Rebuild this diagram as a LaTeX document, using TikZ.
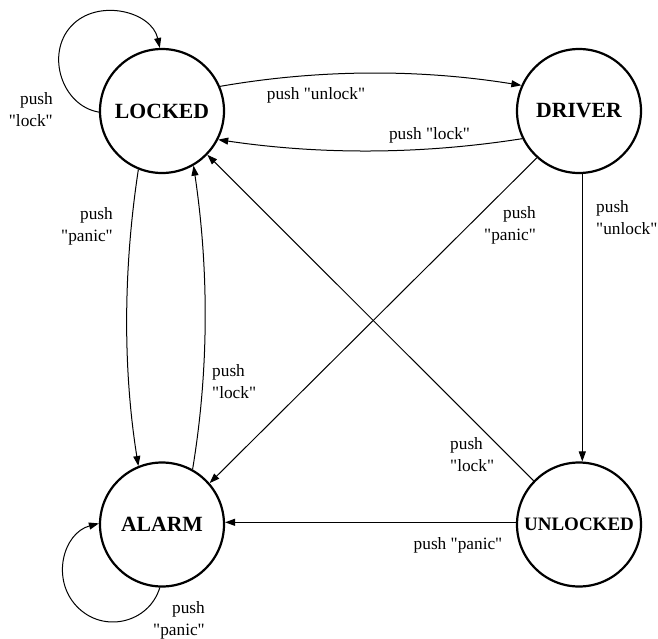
\documentclass[tikz,border=0pt]{standalone}
\usepackage{fontspec}
\setmainfont{Liberation Serif}[Ligatures=TeXOff]
\usetikzlibrary{arrows.meta}
\tikzset{
  state/.style={circle, draw, line width=2.2pt, minimum size=124pt, inner sep=0pt, font=\fontsize{21.7}{24}\selectfont\bfseries},
  edge/.style={line width=1pt, -{Triangle[length=10pt,width=7pt]}},
  lbl/.style={inner sep=0pt, font=\fontsize{17.3}{22}\selectfont}
}
\begin{document}
\begin{tikzpicture}[x=1pt,y=-1pt]
\useasboundingbox (0,0) rectangle (658,638);
\node[state] (L) at (162,111) {LOCKED};
\node[state] (D) at (579,111) {DRIVER};
\node[state] (A) at (162,524.5) {ALARM};
\node[state, font=\fontsize{19}{22}\selectfont\bfseries] (U) at (579,524.5) {UNLOCKED};
\coordinate (lm) at (71.4,25.9);
\coordinate (am) at (76.9,606.5);

\draw[edge] (L.181) .. controls (62,106) and (45.1,54) .. (lm)
                    .. controls (97.7,-2.2) and (151.8,11.3) .. (L.92);
\draw[edge] (L.23) .. controls (320,69) and (420,69) .. (D.156);
\draw[edge] (D.206) .. controls (420,154.7) and (320,154.7) .. (L.333);
\draw[edge] (L.248) .. controls (123,270) and (123,370) .. (A.112);
\draw[edge] (A.61) .. controls (209,370) and (209,270) .. (L.300);
\draw[edge] (D.228) -- (A.41);
\draw[edge] (D.273) -- (U.87);
\draw[edge] (U.136) -- (L.316);
\draw[edge] (U.178) -- (A.2);
\draw[edge] (A.268) .. controls (149.1,623) and (103.3,634.1) .. (am)
                    .. controls (50.5,578.9) and (63.5,532.9) .. (A.179);

\node[lbl, anchor=east, align=right] (l1) at (53,110) {push\\"lock"};
\node[lbl] (l2) at (316,95) {push "unlock"};
\node[lbl] (l3) at (429.5,135) {push "lock"};
\node[lbl, anchor=east, align=right] (l4) at (113,226.5) {push\\"panic"};
\node[lbl, anchor=east, align=right] (l5) at (536,225) {push\\"panic"};
\node[lbl, anchor=west, align=left] (l6) at (596,218) {push\\"unlock"};
\node[lbl, anchor=west, align=left] (l7) at (212,381.6) {push\\"lock"};
\node[lbl, anchor=west, align=left] (l8) at (450,454.6) {push\\"lock"};
\node[lbl] (l9) at (458,545) {push "panic"};
\node[lbl, anchor=east, align=right] (l10) at (205,620.5) {push\\"panic"};
\end{tikzpicture}
\end{document}
